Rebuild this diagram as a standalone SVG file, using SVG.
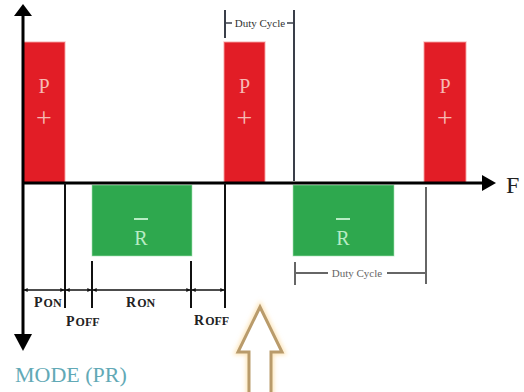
<svg xmlns="http://www.w3.org/2000/svg" width="524" height="392" viewBox="0 0 524 392">
  <defs>
    <style>
      .pbar { fill: #e21d26; stroke: #f6a3a3; stroke-width: 1.5; stroke-opacity: 0.6; }
      .rbar { fill: #2ea84e; stroke: #a8e3b5; stroke-width: 1; stroke-opacity: 0.6; }
      .ptxt { font-family: "Liberation Serif", "Times New Roman", serif; fill: #f6b9b4; text-anchor: middle; }
      .rtxt { font-family: "Liberation Serif", "Times New Roman", serif; fill: #b8ecc4; text-anchor: middle; }
      .axis { stroke: #000; stroke-width: 3; fill: none; }
      .dim { stroke: #111; stroke-width: 2; fill: none; }
      .dimline { stroke: #111; stroke-width: 1.5; fill: none; }
      .lbl { font-family: "Liberation Serif", "Times New Roman", serif; font-weight: bold; fill: #222; }
      .duty { font-family: "Liberation Serif", "Times New Roman", serif; font-size: 11px; text-anchor: middle; }
    </style>
    <marker id="dimarr" viewBox="0 0 6 6" refX="5.5" refY="3" markerWidth="4" markerHeight="4" orient="auto-start-reverse" markerUnits="userSpaceOnUse">
      <path d="M0,0 L6,3 L0,6 z" fill="#111"/>
    </marker>
    <filter id="glow" x="-30%" y="-30%" width="160%" height="160%">
      <feGaussianBlur stdDeviation="2"/>
    </filter>
  </defs>
  <rect width="524" height="392" fill="#fff"/>

  <g id="pulse-p1">
    <rect class="pbar" x="23" y="42" width="42" height="141"/>
    <text class="ptxt" x="44" y="93" font-size="20">P</text>
    <text class="ptxt" x="44" y="127" font-size="28">+</text>
  </g>
  <g id="pulse-p2">
    <rect class="pbar" x="224" y="42" width="41" height="141"/>
    <text class="ptxt" x="244.5" y="93" font-size="20">P</text>
    <text class="ptxt" x="244.5" y="127" font-size="28">+</text>
  </g>
  <g id="pulse-p3">
    <rect class="pbar" x="424" y="42" width="42" height="141"/>
    <text class="ptxt" x="445" y="93" font-size="20">P</text>
    <text class="ptxt" x="445" y="127" font-size="28">+</text>
  </g>
  <g id="pulse-r1">
    <rect class="rbar" x="92" y="185" width="100" height="71"/>
    <line x1="134" y1="219" x2="148" y2="219" stroke="#b8ecc4" stroke-width="2"/>
    <text class="rtxt" x="141" y="245" font-size="20">R</text>
  </g>
  <g id="pulse-r2">
    <rect class="rbar" x="293" y="185" width="101" height="71"/>
    <line x1="336" y1="219" x2="350" y2="219" stroke="#b8ecc4" stroke-width="2"/>
    <text class="rtxt" x="343" y="245" font-size="20">R</text>
  </g>

  <g id="axes">
    <line class="axis" x1="23" y1="14" x2="23" y2="336"/>
    <path d="M23,4 L32,16 L14,16 z" fill="#000"/>
    <path d="M23,351 L32,334 L14,334 z" fill="#000"/>
    <line class="axis" x1="23" y1="183" x2="484" y2="183"/>
    <path d="M496,183 L482,175 L482,191 z" fill="#000"/>
    <text x="506" y="193" font-family="Liberation Serif, Times New Roman, serif" font-size="24" fill="#222">F</text>
  </g>

  <g id="connectors">
    <line class="dim" x1="65" y1="183" x2="65" y2="308"/>
    <line class="dim" x1="92" y1="261" x2="92" y2="308"/>
    <line class="dim" x1="191" y1="261" x2="191" y2="308"/>
    <line class="dim" x1="225" y1="183" x2="225" y2="308"/>
    <line class="dimline" x1="24" y1="290" x2="64" y2="290" marker-start="url(#dimarr)" marker-end="url(#dimarr)"/>
    <line class="dimline" x1="66" y1="290" x2="91" y2="290" marker-start="url(#dimarr)" marker-end="url(#dimarr)"/>
    <line class="dimline" x1="93" y1="290" x2="190" y2="290" marker-start="url(#dimarr)" marker-end="url(#dimarr)"/>
    <line class="dimline" x1="192" y1="290" x2="224" y2="290" marker-start="url(#dimarr)" marker-end="url(#dimarr)"/>

    <line x1="225" y1="10" x2="225" y2="38" stroke="#3a3f4a" stroke-width="2"/>
    <line x1="294" y1="10" x2="294" y2="181" stroke="#3a3f4a" stroke-width="2"/>
    <line x1="225" y1="23" x2="232" y2="23" stroke="#3a3f4a" stroke-width="1.5"/>
    <line x1="287" y1="23" x2="294" y2="23" stroke="#3a3f4a" stroke-width="1.5"/>

    <line x1="295" y1="262" x2="295" y2="285" stroke="#666" stroke-width="2"/>
    <line x1="426" y1="187" x2="426" y2="284" stroke="#666" stroke-width="2"/>
    <line x1="295" y1="273" x2="328" y2="273" stroke="#666" stroke-width="2"/>
    <line x1="387" y1="273" x2="426" y2="273" stroke="#666" stroke-width="2"/>
  </g>

  <g id="labels">
    <text class="lbl" x="34" y="307"><tspan font-size="14">P</tspan><tspan font-size="12" dx="1">ON</tspan></text>
    <text class="lbl" x="66" y="326"><tspan font-size="14">P</tspan><tspan font-size="12" dx="1">OFF</tspan></text>
    <text class="lbl" x="126" y="307"><tspan font-size="14">R</tspan><tspan font-size="12" dx="1">ON</tspan></text>
    <text class="lbl" x="194" y="325"><tspan font-size="14">R</tspan><tspan font-size="12" dx="1">OFF</tspan></text>
    <text class="duty" x="260" y="27" fill="#333">Duty Cycle</text>
    <text class="duty" x="357" y="277" fill="#666">Duty Cycle</text>
    <text x="15" y="382" font-family="Liberation Serif, Times New Roman, serif" font-size="22" fill="#62a9b6">MODE (PR)</text>
  </g>

  <g id="up-arrow">
    <path d="M260,307 L282,352 L271,352 L271,394 L249,394 L249,352 L238,352 z" fill="none" stroke="#fbd38a" stroke-width="6" stroke-opacity="0.6" filter="url(#glow)"/>
    <path d="M260,307 L282,352 L271,352 L271,394 L249,394 L249,352 L238,352 z" fill="#fff" stroke="#b99b6b" stroke-width="3" stroke-linejoin="miter"/>
  </g>
</svg>
